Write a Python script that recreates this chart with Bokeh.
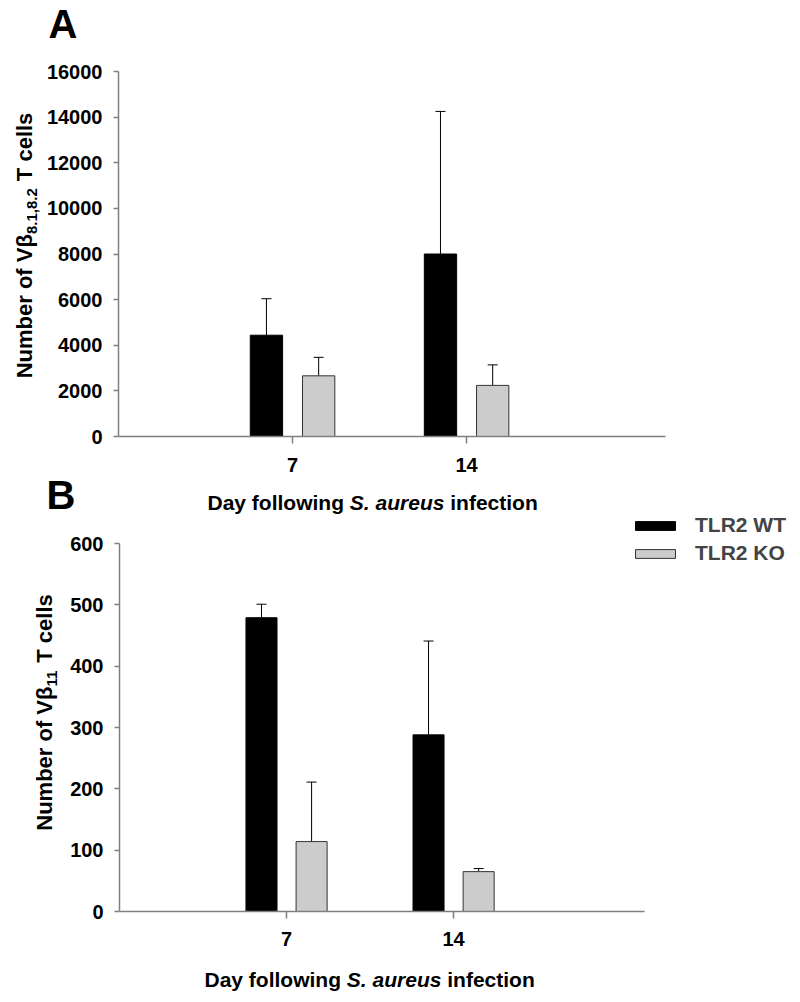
import math
from bokeh.plotting import figure
from bokeh.models import (ColumnDataSource, Whisker, TeeHead, FixedTicker, Label,
                          Legend, LegendItem, Range1d, LinearAxis)
from bokeh.embed import file_html
from bokeh.resources import INLINE

# ---------------- data ----------------
days = [7, 14]
day_ticks = [7, 14]
groups = ["TLR2 WT", "TLR2 KO"]

a_wt_mean = [4440, 8000]
a_wt_err = [1600, 6250]
a_ko_mean = [2660, 2240]
a_ko_err = [810, 900]

b_wt_mean = [479, 288]
b_wt_err = [22, 153]
b_ko_mean = [114, 65]
b_ko_err = [97, 5]

a_yticks = [0, 2000, 4000, 6000, 8000, 10000, 12000, 14000, 16000]
b_yticks = [0, 100, 200, 300, 400, 500, 600]

# ---------------- styling / layout ----------------
W, H = 796, 1000
FONT = "Liberation Sans"
AXIS_GRAY = "#7f7f7f"
WT_COLOR = "black"
KO_COLOR = "#cccccc"
BAR_W = 1.3
OFFSET = 1.05
X_END = 22
BASE_SHIFT = 0.38   # em correction so that the given y is the alphabetic baseline

# panel frames in page pixels: left, right, top(value max), bottom(zero)
FRAME_A = (118, 665, 71, 436)
FRAME_B = (119, 644, 543, 911)

ADV = {' ': 278, '.': 278, ',': 278, 'A': 722, 'B': 722, 'D': 722, 'K': 778, 'L': 611,
       'N': 722, 'O': 778, 'R': 722, 'S': 667, 'T': 611, 'V': 667, 'W': 944,
       'a': 556, 'b': 611, 'c': 556, 'e': 556, 'f': 333, 'g': 611, 'i': 278, 'l': 278,
       'm': 889, 'n': 611, 'o': 611, 'r': 389, 's': 556, 't': 333, 'u': 611, 'w': 778,
       'y': 556, 'β': 611}
for d in "0123456789":
    ADV[d] = 556


def tw(s, size):
    return sum(ADV.get(c, 556) for c in s) * size / 1000.0


p = figure(width=W, height=H, x_range=Range1d(0, W), y_range=Range1d(H, 0),
           x_axis_type=None, y_axis_type=None, output_backend="svg",
           toolbar_location=None, min_border=0)
p.outline_line_color = None
p.background_fill_color = "white"
p.border_fill_color = "white"


def panel_ranges(frame, ymax):
    left, right, top, bottom = frame
    kx = X_END / (right - left)
    ky = ymax / (bottom - top)
    xr = Range1d(start=(0 - left) * kx, end=(W - left) * kx)
    yr = Range1d(start=(bottom - H) * ky, end=bottom * ky)
    return xr, yr


def style_axis(ax, tick_out, standoff):
    ax.axis_line_color = AXIS_GRAY
    ax.axis_line_width = 1.5
    ax.major_tick_line_color = AXIS_GRAY
    ax.major_tick_line_width = 1.5
    ax.minor_tick_line_color = None
    ax.major_tick_in = 0
    ax.major_tick_out = tick_out
    ax.major_label_standoff = standoff
    ax.major_label_text_font = FONT
    ax.major_label_text_font_style = "bold"
    ax.major_label_text_font_size = "20px"
    ax.major_label_text_color = "black"


def make_panel(name, frame, ymax, yticks, wt_mean, wt_err, ko_mean, ko_err, x_standoff):
    xr, yr = panel_ranges(frame, ymax)
    xn, yn = "x" + name, "y" + name
    p.extra_x_ranges[xn] = xr
    p.extra_y_ranges[yn] = yr

    src_wt = ColumnDataSource(dict(x=[d - OFFSET for d in days], top=wt_mean,
                                   up=[m + e for m, e in zip(wt_mean, wt_err)]))
    src_ko = ColumnDataSource(dict(x=[d + OFFSET for d in days], top=ko_mean,
                                   up=[m + e for m, e in zip(ko_mean, ko_err)]))
    for src in (src_wt, src_ko):
        p.add_layout(Whisker(source=src, base="x", upper="up", lower="top",
                             dimension="height", line_color="black", line_width=1,
                             x_range_name=xn, y_range_name=yn,
                             upper_head=TeeHead(size=10, line_color="black", line_width=1),
                             lower_head=None))
    r_wt = p.vbar(x="x", top="top", width=BAR_W, source=src_wt, fill_color=WT_COLOR,
                  line_color="black", line_width=1, x_range_name=xn, y_range_name=yn)
    r_ko = p.vbar(x="x", top="top", width=BAR_W, source=src_ko, fill_color=KO_COLOR,
                  line_color="#333333", line_width=1, x_range_name=xn, y_range_name=yn)

    xax = LinearAxis(x_range_name=xn, y_range_name=yn, fixed_location=0,
                     bounds=(0, X_END), ticker=FixedTicker(ticks=day_ticks))
    style_axis(xax, 7, x_standoff)
    p.add_layout(xax, "below")
    yax = LinearAxis(x_range_name=xn, y_range_name=yn, fixed_location=0,
                     bounds=(0, ymax), ticker=FixedTicker(ticks=yticks))
    style_axis(yax, 5, 11)
    p.add_layout(yax, "left")
    return r_wt, r_ko


def add_text(x, y, text, size, style="bold", vertical=False):
    """x, y: start of the text on its alphabetic baseline (page pixels)."""
    lead = len(text) - len(text.lstrip(" "))
    adv = tw(" " * lead, size)
    text = text.lstrip(" ")
    shift = BASE_SHIFT * size
    if vertical:
        lx, ly, angle = x - shift, y - adv, math.pi / 2
    else:
        lx, ly, angle = x + adv, y - shift, 0.0
    p.add_layout(Label(x=lx, y=ly, text=text, text_font=FONT, text_font_style=style,
                       text_font_size=f"{size}px", text_color="black", text_align="left",
                       text_baseline="alphabetic", angle=angle))


def add_xtitle(sx_start, sy_base, size=21):
    pieces = [("Day following ", "bold"), ("S. aureus", "bold italic"), (" infection", "bold")]
    sx = sx_start
    for txt, style in pieces:
        add_text(sx, sy_base, txt, size, style)
        sx += tw(txt, size)


def add_ytitle(sx_base, sy_center, sub, tail, size=22, sub_size=15, gap=1):
    head = "Number of Vβ"
    total = tw(head, size) + tw(sub, sub_size) + gap + tw(tail, size)
    sy = sy_center + total / 2.0
    add_text(sx_base, sy, head, size, vertical=True)
    sy -= tw(head, size)
    add_text(sx_base + 5, sy, sub, sub_size, vertical=True)
    sy -= tw(sub, sub_size) + gap
    add_text(sx_base, sy, tail, size, vertical=True)


# ---------------- panel A ----------------
make_panel("a", FRAME_A, 16000, a_yticks, a_wt_mean, a_wt_err, a_ko_mean, a_ko_err, 14)
add_xtitle(207, 510)
add_ytitle(32, 245, "8.1,8.2", " T cells")
add_text(48, 39, "A", 40)

# ---------------- panel B ----------------
rB_wt, rB_ko = make_panel("b", FRAME_B, 600, b_yticks, b_wt_mean, b_wt_err,
                          b_ko_mean, b_ko_err, 13)
add_xtitle(204, 987)
add_ytitle(52, 712, "11", " T cells")
add_text(46, 510, "B", 40)

legend = Legend(items=[LegendItem(label=groups[0], renderers=[rB_wt]),
                       LegendItem(label=groups[1], renderers=[rB_ko])],
                location=(630, H - 565), orientation="vertical", glyph_width=50,
                glyph_height=11, label_standoff=15, spacing=4, padding=0, margin=0,
                border_line_color=None, background_fill_alpha=0,
                label_text_font=FONT, label_text_font_style="bold",
                label_text_font_size="21px", label_height=24)
p.add_layout(legend)

open("out.html", "w").write(file_html(p, INLINE))
